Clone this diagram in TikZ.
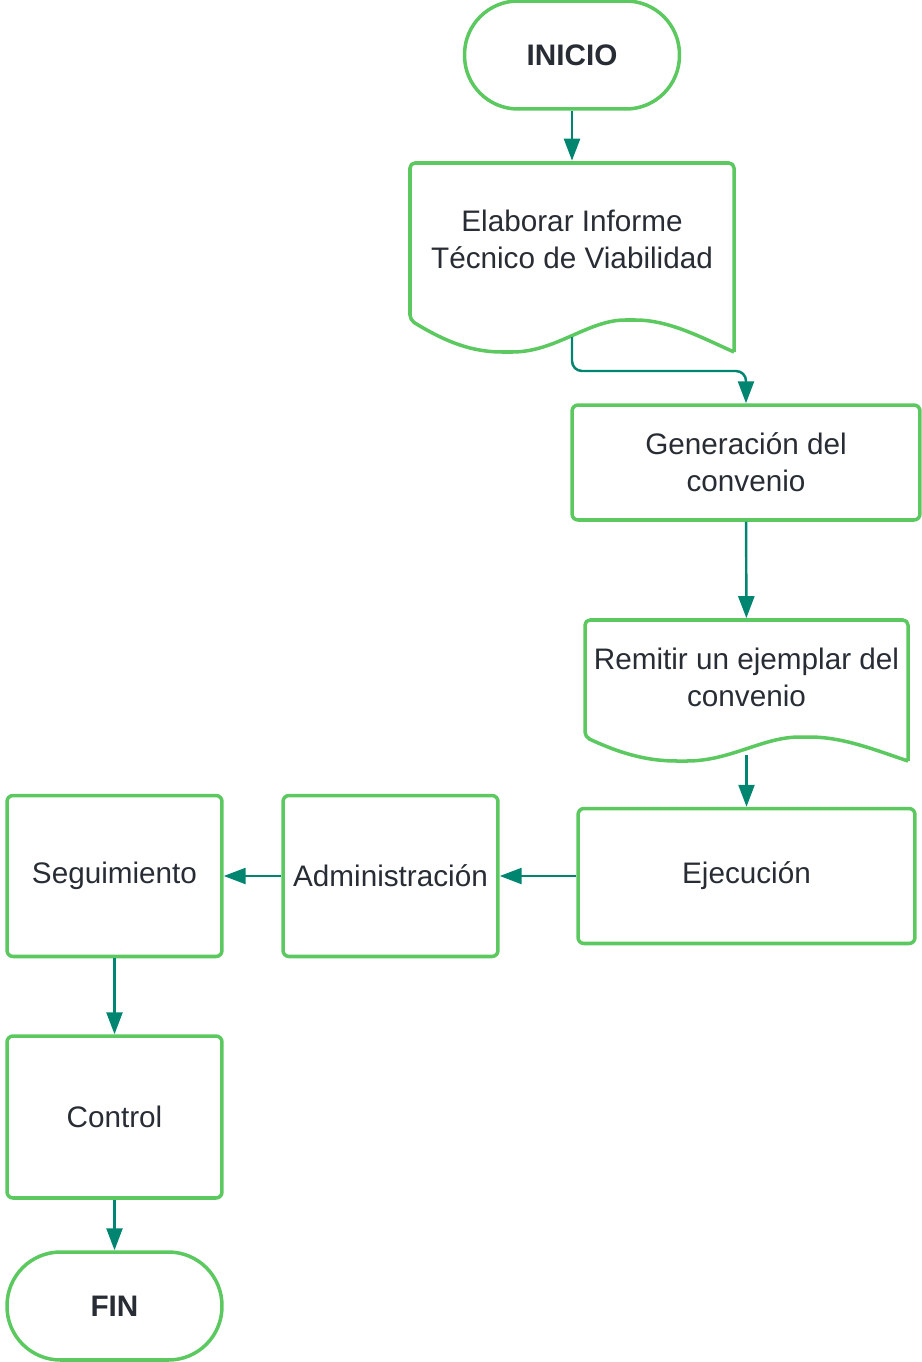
\documentclass[tikz,border=0pt]{standalone}
\usepackage{fontspec}
\setmainfont{Liberation Sans}
\usetikzlibrary{arrows.meta}

\definecolor{boxgreen}{RGB}{92,200,96}
\definecolor{flowteal}{RGB}{0,133,112}
\definecolor{inktext}{RGB}{40,44,52}

% document outline: left, top, right, bottom (left side), wave depth
\newcommand\docshape[5]{\draw[shapeline, rounded corners=0.1cm]
    ({#3},{#4+#5}) -- ({#3},{#2}) -- ({#1},{#2}) -- ({#1},{#4})
    .. controls ({#1+0.12*(#3-#1)},{#4+0.75*#5}) and ({#1+0.2*(#3-#1)},{#4+#5}) .. ({#1+0.3*(#3-#1)},{#4+#5})
    .. controls ({#1+0.45*(#3-#1)},{#4+#5}) and ({#1+0.55*(#3-#1)},{#4}) .. ({#1+0.68*(#3-#1)},{#4})
    .. controls ({#1+0.8*(#3-#1)},{#4}) and ({#1+0.9*(#3-#1)},{#4+0.55*#5}) .. ({#3},{#4+#5}) ; }

\begin{document}
\begin{tikzpicture}[x=0.02cm, y=-0.02cm,
    every node/.style={text=inktext, align=center, inner sep=0pt,
        font=\fontsize{16.9pt}{21pt}\selectfont},
    shapeline/.style={draw=boxgreen, line width=2pt, line join=round},
    terminal/.style={shapeline, rounded corners=1.07cm, minimum width=4.3cm,
        minimum height=2.16cm, font=\fontsize{16.9pt}{21pt}\selectfont\bfseries},
    procbox/.style={shapeline, rounded corners=0.12cm},
    flow/.style={draw=flowteal, line width=1.4pt, -{Triangle[length=0.44cm, width=0.32cm]}}]
    \useasboundingbox (0,0) rectangle (922,1362);

    % start
    \node[terminal] (inicio) at (572,55) {INICIO};

    % first document
    \node[minimum width=6.48cm, minimum height=3.14cm] (informe) at (572,239.5)
        {Elaborar Informe\\Técnico de Viabilidad};
    \docshape{410}{163}{734}{320}{32}
    \coordinate (informe out) at (572,337);
    \coordinate (bend) at (660,371);

    \node[procbox, minimum width=6.96cm, minimum height=2.3cm] (convenio) at (746,462.5)
        {Generación del\\convenio};

    % second document
    \node[minimum width=6.46cm, minimum height=2.34cm] (remitir) at (746.5,677)
        {Remitir un ejemplar del\\convenio};
    \docshape{585}{620}{908}{737}{24}
    \coordinate (remitir out) at (746.5,755);

    % bottom row, right to left
    \node[procbox, minimum width=6.74cm, minimum height=2.7cm] (ejecucion) at (746.5,876) {Ejecución};
    \node[procbox, minimum width=4.3cm, minimum height=3.22cm] (admin) at (390.5,876) {Administración};
    \node[procbox, minimum width=4.3cm, minimum height=3.22cm] (seguim) at (114.5,876) {Seguimiento};

    % left column
    \node[procbox, minimum width=4.3cm, minimum height=3.24cm] (control) at (114.5,1117) {Control};
    \node[terminal] (fin) at (114.5,1306) {FIN};

    % connectors
    \draw[flow] (inicio) -- (informe);
    \draw[flow, rounded corners=0.2cm] (informe out) |- (bend) -| (convenio.north);
    \draw[flow] (convenio) -- (remitir);
    \draw[flow] (remitir out) -- (ejecucion.north);
    \draw[flow] (ejecucion.west) -- (admin.east);
    \draw[flow] (admin) -- (seguim);
    \draw[flow] (seguim) -- (control);
    \draw[flow] (control) -- (fin);
\end{tikzpicture}
\end{document}
